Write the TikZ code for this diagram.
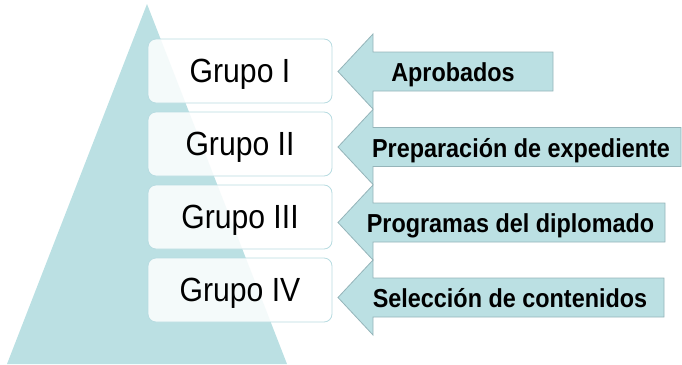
\documentclass[tikz,border=0pt]{standalone}
\usepackage{fontspec}
\setmainfont{Liberation Sans}
\newfontfamily\grupofont[FakeStretch=0.9]{Liberation Sans}
\newfontfamily\flechafont[FakeStretch=0.9]{Liberation Sans Bold}
\usetikzlibrary{positioning}
\definecolor{tealclaro}{HTML}{BBE0E3}
\definecolor{bordecaja}{HTML}{B8DCE1}
\definecolor{bordeflecha}{HTML}{95B4B9}

\begin{document}
\begin{tikzpicture}[x=1pt, y=-1pt,
		grupo/.style={rectangle, rounded corners=8pt, draw=bordecaja, line width=0.8pt, fill=white, fill opacity=0.85, text opacity=1, minimum width=184pt, minimum height=64pt, text height=23pt, text depth=0pt, font=\grupofont\fontsize{33.5}{33.5}\selectfont},
		flecha/.style={fill=tealclaro, draw=bordeflecha, line width=0.8pt},
		etiqueta/.style={anchor=base, font=\flechafont\fontsize{26}{26}\selectfont}]
		\useasboundingbox (0,0) rectangle (682,364);
		% pyramid
		\fill[tealclaro] (147,4) -- (287,364) -- (7,364) -- cycle;
		% groups
		\node[grupo] (g1) at (240,71) {Grupo I};
		\node[grupo] (g2) at (240,144) {Grupo II};
		\node[grupo] (g3) at (240,217) {Grupo III};
		\node[grupo] (g4) at (240,290) {Grupo IV};
		% arrows
		\filldraw[flecha] (338,71.5) -- (373,34) -- (373,52) -- (553,52) -- (553,91) -- (373,91) -- (373,109) -- cycle;
		\node[etiqueta] (a1) at (453,81.5) {Aprobados};
		
		\filldraw[flecha] (338,147) -- (373,109.5) -- (373,127.5) -- (681,127.5) -- (681,166.5) -- (373,166.5) -- (373,184.5) -- cycle;
		\node[etiqueta] (a2) at (521,157) {Preparación de expediente};
		
		\filldraw[flecha] (338,222.5) -- (373,185) -- (373,203) -- (665,203) -- (665,242) -- (373,242) -- (373,260) -- cycle;
		\node[etiqueta] (a3) at (510.5,232) {Programas del diplomado};
		
		\filldraw[flecha] (338,297.5) -- (373,260) -- (373,278) -- (664,278) -- (664,317) -- (373,317) -- (373,335) -- cycle;
		\node[etiqueta] (a4) at (510,307) {Selección de contenidos};
	\end{tikzpicture}
\end{document}
